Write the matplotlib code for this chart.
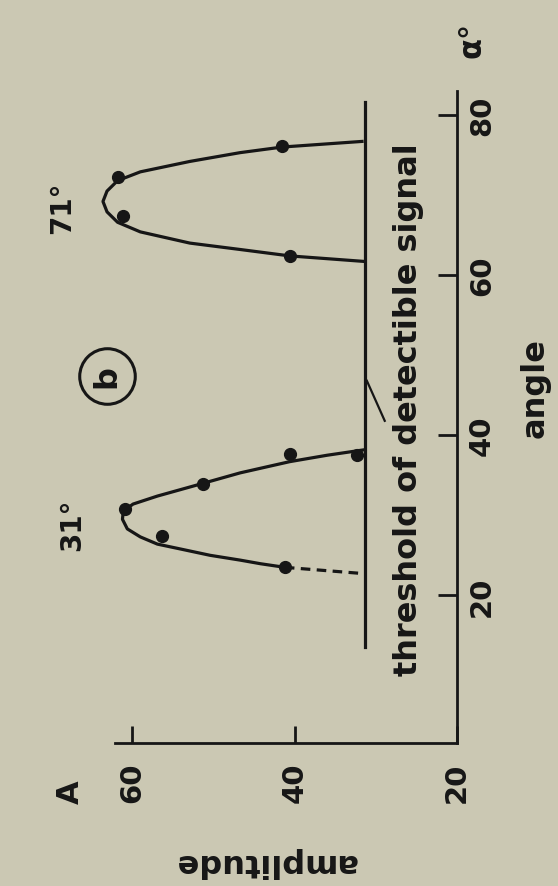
import matplotlib
matplotlib.use("Agg")
import matplotlib.pyplot as plt

# chart is drawn turned 90 degrees: amplitude runs right-to-left, angle runs upward
amp_ticks = [20, 40, 60]
angle_ticks = [20, 40, 60, 80]

# peak near 31 degrees (traced curve, amplitude / angle)
curve1_amp = [31.3, 36.0, 40.6, 46.7, 51.6, 56.9, 59.9, 61.1, 61.2, 60.6, 59.0, 56.9, 54.1, 50.4, 46.7, 44.2, 41.2]
curve1_ang = [38.2, 37.5, 36.7, 35.3, 33.9, 32.4, 31.4, 30.5, 29.5, 28.3, 27.3, 26.4, 25.8, 25.0, 24.4, 23.95, 23.5]
dash1_amp = [41.2, 31.3]
dash1_ang = [23.5, 22.7]
dots1_amp = [60.9, 56.3, 51.3, 40.6, 32.3, 41.2]
dots1_ang = [30.8, 27.4, 33.9, 37.6, 37.5, 23.5]

# peak near 71 degrees
curve2_amp = [31.7, 41.5, 46.7, 52.9, 59.0, 61.8, 63.1, 63.6, 63.1, 61.8, 59.0, 52.9, 46.7, 40.6, 31.3]
curve2_ang = [76.7, 76.0, 75.3, 74.2, 72.9, 71.8, 70.5, 69.2, 67.9, 66.6, 65.4, 64.0, 63.2, 62.4, 61.7]
dots2_amp = [41.5, 61.8, 61.1, 40.6]
dots2_ang = [76.1, 72.2, 67.4, 62.4]

threshold_amp = 31.3
threshold_ang = [13.5, 81.6]

bg = "#cbc8b3"
ink = "#161616"

plt.rcParams["font.family"] = ["DejaVu Sans"]
plt.rcParams["font.weight"] = "bold"

fig = plt.figure(figsize=(5.58, 8.87), dpi=100, facecolor=bg)
ax = fig.add_axes([0.0914, 0.1607, 0.7276, 0.7356])
ax.set_facecolor(bg)

ax.plot(curve1_amp, curve1_ang, color=ink, lw=2.3, solid_joinstyle="round")
ax.plot(dash1_amp, dash1_ang, color=ink, lw=2.3, ls=(0, (3, 2)))
ax.plot(dots1_amp, dots1_ang, "o", color=ink, ms=8.5)
ax.plot(curve2_amp, curve2_ang, color=ink, lw=2.3, solid_joinstyle="round")
ax.plot(dots2_amp, dots2_ang, "o", color=ink, ms=8.5)
ax.plot([threshold_amp, threshold_amp], threshold_ang, color=ink, lw=2.3)
ax.plot([31.1, 28.9], [46.8, 41.8], color=ink, lw=1.6)

ax.set_xlim(70, 20)
ax.set_ylim(1.5, 83)

for s in ["top", "left"]:
    ax.spines[s].set_visible(False)
ax.spines["bottom"].set_bounds(20, 62.1)
for s in ["bottom", "right"]:
    ax.spines[s].set_linewidth(2.0)
    ax.spines[s].set_color(ink)

ax.yaxis.tick_right()
ax.set_xticks(amp_ticks)
ax.set_yticks(angle_ticks)
ax.tick_params(axis="x", direction="in", length=12, width=2, color=ink, pad=13,
               labelsize=21, labelrotation=90, labelcolor=ink)
ax.tick_params(axis="y", direction="in", length=14, width=2, color=ink, pad=8,
               labelsize=21, labelrotation=90, labelcolor=ink)
for lbl in ax.get_yticklabels():
    lbl.set_va("center")

# annotations
ax.text(26.0, 43.3, "threshold of detectible signal", rotation=90, fontsize=23,
        ha="center", va="center", color=ink)
ax.text(67.4, 28.9, "31°", rotation=90, fontsize=20, ha="center", va="center", color=ink)
ax.text(68.6, 68.6, "71°", rotation=90, fontsize=20, ha="center", va="center", color=ink)
ax.plot([63.1], [47.4], "o", ms=40, mfc="none", mec=ink, mew=2.2, clip_on=False)
ax.text(63.1, 47.4, "b", rotation=90, fontsize=23, ha="center", va="center", color=ink)
ax.text(67.6, -4.4, "A", rotation=90, fontsize=22, ha="center", va="center", color=ink,
        clip_on=False)
ax.text(43.6, -13.2, "amplitude", rotation=180, fontsize=23, ha="center", va="center",
        color=ink, clip_on=False)
ax.text(10.4, 46.0, "angle", rotation=90, fontsize=23, ha="center", va="center",
        color=ink, clip_on=False)
ax.text(18.2, 89.5, "α°", rotation=90, fontsize=22, ha="center", va="center",
        color=ink, clip_on=False)

fig.savefig("out.png", dpi=100, facecolor=bg)
